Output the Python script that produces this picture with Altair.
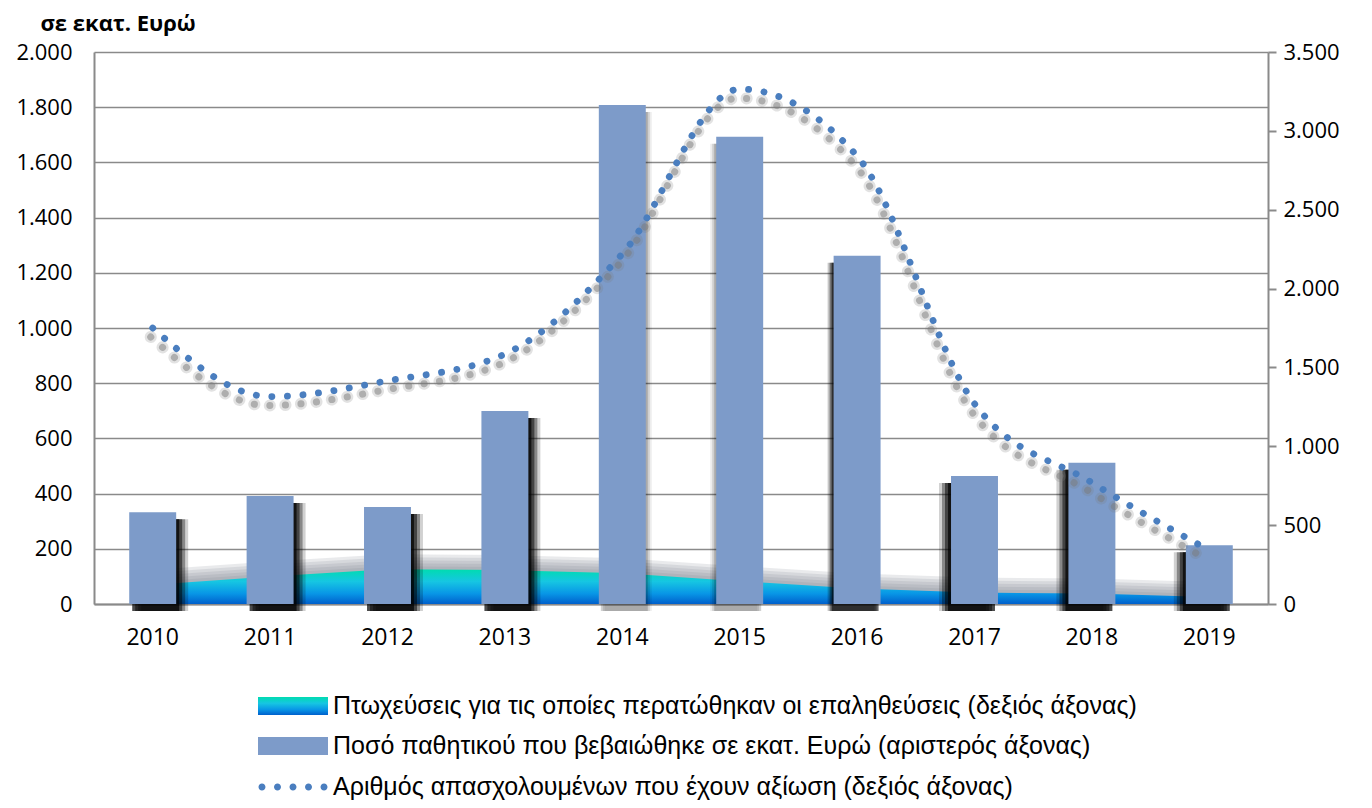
import altair as alt
import pandas as pd

years = ["2010", "2011", "2012", "2013", "2014", "2015", "2016", "2017", "2018", "2019"]
liabilities = [332, 391, 351, 699, 1808, 1693, 1262, 464, 512, 213]      # left axis
bankruptcies = [122, 175, 220, 215, 195, 145, 98, 73, 66, 45]            # right axis
employees = [1750, 1315, 1415, 1585, 2220, 3265, 2840, 1270, 770, 340]   # right axis

left_ticks = [0, 200, 400, 600, 800, 1000, 1200, 1400, 1600, 1800, 2000]
right_ticks = [0, 500, 1000, 1500, 2000, 2500, 3000, 3500]

NAME_AREA = "Πτωχεύσεις για τις οποίες περατώθηκαν οι επαληθεύσεις (δεξιός άξονας)"
NAME_BAR = "Ποσό παθητικού που βεβαιώθηκε σε εκατ. Ευρώ (αριστερός άξονας)"
NAME_LINE = "Αριθμός απασχολουμένων που έχουν αξίωση (δεξιός άξονας)"
Y_TITLE = "σε εκατ. Ευρώ"

df = pd.DataFrame({
    "year": years, "liab": liabilities, "bank": bankruptcies, "emp": employees,
    "s_area": NAME_AREA, "s_bar": NAME_BAR, "s_line": NAME_LINE,
})

BAR_C = "#7d9bc9"
LINE_C = "#4a7ebf"
GRID_C = "#8a8a8a"
TICK_FONT = "Open Sans"
LEG_FONT = "Liberation Sans Narrow, Arial Narrow, Liberation Sans"
LEG_SIZE = 25

grad_stops = [
    alt.GradientStop(color="#00dcb0", offset=0),
    alt.GradientStop(color="#16c6e2", offset=0.35),
    alt.GradientStop(color="#0896e6", offset=0.7),
    alt.GradientStop(color="#0060cc", offset=1),
]
GRAD = alt.Gradient(gradient="linear", stops=grad_stops, x1=0, x2=0, y1=0, y2=1)

RECT_PATH = "M-1,-0.257L1,-0.257L1,0.257L-1,0.257Z"
r = 0.1
DOTS_PATH = "".join(
    f"M{cx - r:.3f},0A{r},{r},0,1,0,{cx + r:.3f},0A{r},{r},0,1,0,{cx - r:.3f},0Z"
    for cx in (-0.886, -0.443, 0.0, 0.443, 0.886)
)

dot_fmt = "replace(format(datum.value, ','), ',', '.')"

YL = alt.Scale(domain=[0, 2000], nice=False, zero=True)
YR = alt.Scale(domain=[0, 3500], nice=False, zero=True)

X = alt.X("year:N", sort=years,
          scale=alt.Scale(paddingInner=0.6, paddingOuter=0.3),
          axis=alt.Axis(title=None, labelAngle=0, ticks=False, tickSize=0,
                        labelPadding=22, labelFontSize=23, grid=False))

base = alt.Chart(df)


def legend(x, y, path, **extra):
    kw = dict(title=None, orient="none", legendX=x, legendY=y, symbolType=path,
              symbolSize=4900, labelFont=LEG_FONT, labelFontSize=LEG_SIZE,
              labelLimit=2000, labelOffset=5, labelColor="black",
              symbolStrokeWidth=0)
    kw.update(extra)
    return alt.Legend(**kw)


# soft gray haze above the area
haze = [
    base.mark_area(color="#7d848c", opacity=0.17, yOffset=-k).encode(
        x=X, y=alt.Y("bank:Q", scale=YR, axis=None), y2=alt.datum(0))
    for k in (3, 6, 9, 12, 15)
]

area = base.mark_area(color=GRAD).encode(
    x=X,
    y=alt.Y("bank:Q", scale=YR, axis=None),
    opacity=alt.Opacity("s_area:N", scale=alt.Scale(range=[1]),
                        legend=legend(164, 619, RECT_PATH)),
)


def shadows(yrs, sign, steps, ops):
    out = []
    for d, o in zip(steps, ops):
        out.append(
            base.transform_filter(alt.FieldOneOfPredicate(field="year", oneOf=yrs))
            .mark_bar(color="black", opacity=o, xOffset=sign * d, yOffset=7, y2Offset=7)
            .encode(x=X, y=alt.Y("liab:Q", scale=YL, axis=None))
        )
    return out


bar_shadows = (
    shadows(["2010", "2011", "2012", "2013"], 1, [3, 6, 9, 12], [0.7, 0.5, 0.35, 0.18])
    + shadows(["2014"], 1, [2, 4, 6], [0.18, 0.12, 0.07])
    + shadows(["2015"], -1, [2, 4, 6], [0.18, 0.12, 0.07])
    + shadows(["2016"], -1, [2, 4, 6], [0.6, 0.4, 0.22])
    + shadows(["2017", "2018", "2019"], -1, [3, 6, 9, 12], [0.7, 0.5, 0.35, 0.18])
)

bars = base.mark_bar(strokeWidth=0).encode(
    x=X,
    y=alt.Y("liab:Q", scale=YL,
            axis=alt.Axis(orient="left", values=left_ticks, labelExpr=dot_fmt,
                          grid=True, ticks=False, tickSize=0, labelPadding=22,
                          title=Y_TITLE, titleAngle=0, titleAlign="left",
                          titleBaseline="alphabetic", titleX=-54, titleY=-22,
                          titleFont="Open Sans", titleFontSize=22,
                          titleFontWeight="bold", titleColor="black")),
    color=alt.Color("s_bar:N", scale=alt.Scale(range=[BAR_C]),
                    legend=legend(164, 659, RECT_PATH, symbolOpacity=1)),
)

line_common = dict(interpolate="monotone", strokeDash=[0.1, 15.5], strokeCap="round")

line_shadows = [
    base.mark_line(color="#7a7a7a", opacity=0.22, strokeWidth=12, xOffset=-2, yOffset=9,
                   **line_common).encode(x=X, y=alt.Y("emp:Q", scale=YR, axis=None)),
    base.mark_line(color="#7a7a7a", opacity=0.5, strokeWidth=7, xOffset=-2, yOffset=9,
                   **line_common).encode(x=X, y=alt.Y("emp:Q", scale=YR, axis=None)),
]

line = base.mark_line(strokeWidth=6.8, **line_common).encode(
    x=X,
    y=alt.Y("emp:Q", scale=YR,
            axis=alt.Axis(orient="right", values=right_ticks, labelExpr=dot_fmt,
                          grid=False, tickSize=8, labelPadding=7, title=None)),
    stroke=alt.Stroke("s_line:N", scale=alt.Scale(range=[LINE_C]),
                      legend=legend(164, 700, DOTS_PATH, symbolFillColor=LINE_C,
                                    symbolOpacity=1)),
)

chart = alt.layer(
    *haze, area, *bar_shadows, bars, *line_shadows, line
).resolve_scale(
    y="independent"
).properties(
    width=1174, height=552,
    padding={"left": 86, "top": 44, "right": 90, "bottom": 196},
    autosize=alt.AutoSizeParams(type="none"),
    background="white",
).configure_view(
    stroke=None
).configure_axis(
    domainColor=GRID_C, domainWidth=2, gridColor=GRID_C, gridWidth=1.6,
    tickColor=GRID_C, tickWidth=2, labelFont=TICK_FONT, labelFontSize=22,
    labelColor="black",
)

chart.save("out.html", embed_options={"renderer": "svg", "actions": False})
